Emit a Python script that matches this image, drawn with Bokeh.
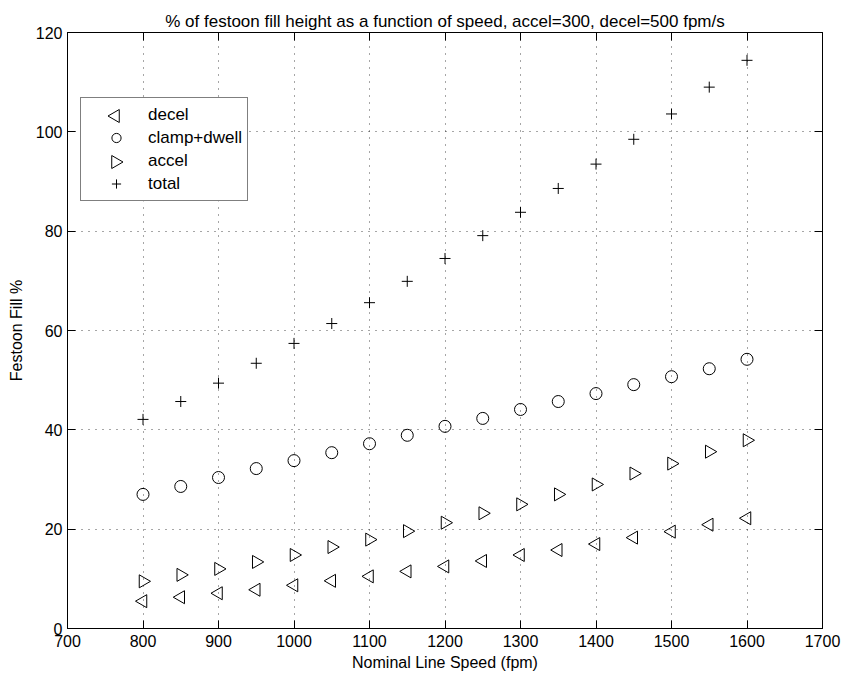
from math import pi

from bokeh.embed import file_html
from bokeh.models import Legend, LegendItem, LinearAxis, Range1d, SingleIntervalTicker
from bokeh.plotting import figure
from bokeh.resources import INLINE

# Nominal line speed (fpm)
speed = [800, 850, 900, 950, 1000, 1050, 1100, 1150, 1200,
         1250, 1300, 1350, 1400, 1450, 1500, 1550, 1600]

# Festoon fill (%) for each phase of the cycle
decel = [5.5, 6.3, 7.1, 7.8, 8.7, 9.6, 10.5, 11.5, 12.5,
         13.6, 14.8, 15.8, 17.0, 18.3, 19.5, 20.9, 22.2]
clamp_dwell = [27.0, 28.6, 30.4, 32.2, 33.8, 35.4, 37.2, 38.9, 40.7,
               42.3, 44.1, 45.7, 47.3, 49.1, 50.7, 52.3, 54.2]
accel = [9.5, 10.8, 12.0, 13.4, 14.8, 16.4, 17.9, 19.6, 21.3,
         23.2, 25.0, 27.0, 29.0, 31.2, 33.2, 35.6, 37.9]
total = [42.1, 45.7, 49.4, 53.4, 57.4, 61.4, 65.6, 69.9, 74.5,
         79.1, 83.8, 88.6, 93.5, 98.5, 103.6, 109.0, 114.4]

series_labels = ["decel", "clamp+dwell", "accel", "total"]

title_text = "% of festoon fill height as a function of speed, accel=300, decel=500 fpm/s"
x_label = "Nominal Line Speed (fpm)"
y_label = "Festoon Fill %"

X0, X1 = 700, 1700
Y0, Y1 = 0, 120
FRAME_W, FRAME_H = 755, 596

FONT = "Liberation Sans"
FS = "16px"
FS_BIG = "17px"

p = figure(
    frame_width=FRAME_W, frame_height=FRAME_H,
    x_range=Range1d(X0, X1), y_range=Range1d(Y0, Y1),
    output_backend="svg", toolbar_location=None,
    min_border_left=67, min_border_right=24,
    min_border_top=32, min_border_bottom=51,
    background_fill_color="white", border_fill_color="white",
)

p.outline_line_color = "black"
p.outline_line_width = 1

xticker = SingleIntervalTicker(interval=100, num_minor_ticks=0)
yticker = SingleIntervalTicker(interval=20, num_minor_ticks=0)

# mirror axes on top and right carry ticks only
p.add_layout(LinearAxis(), "above")
p.add_layout(LinearAxis(), "right")

p.title.text = title_text
p.title.align = "center"
p.title.vertical_align = "top"
p.title.offset = 9
p.title.text_font = FONT
p.title.text_font_size = FS_BIG
p.title.text_font_style = "normal"
p.title.text_color = "black"
p.title.standoff = 0

for ax in p.xaxis:
    ax.ticker = xticker
for ax in p.yaxis:
    ax.ticker = yticker

for ax in p.axis:
    ax.major_tick_in = 8
    ax.major_tick_out = 0
    ax.minor_tick_line_color = None
    ax.axis_line_color = "black"
    ax.major_tick_line_color = "black"
    ax.major_label_text_font = FONT
    ax.major_label_text_font_size = FS
    ax.major_label_text_color = "black"
    ax.axis_label_text_font = FONT
    ax.axis_label_text_font_size = FS
    ax.axis_label_text_font_style = "normal"
    ax.axis_label_text_color = "black"

for ax in p.above + p.right:
    ax.major_label_text_font_size = "0px"
    ax.major_label_text_color = None
    ax.major_label_standoff = 0

p.below[0].axis_label = x_label
p.below[0].major_label_standoff = 6
p.below[0].axis_label_standoff = 4
p.left[0].axis_label = y_label
p.left[0].major_label_standoff = 5
p.left[0].axis_label_standoff = 8

p.xgrid.ticker = xticker
p.ygrid.ticker = yticker
for g in (p.xgrid, p.ygrid):
    g.grid_line_color = "black"
    g.grid_line_alpha = 0.7
    g.grid_line_dash = "1 6"
    g.grid_line_width = 1

# legend geometry (screen pixels from the frame's lower-left corner)
LEG_LEFT, LEG_BOTTOM = 13, 427
PAD, ROW_H, GLYPH_W = 5, 23, 60
LEG_W = 167
n_rows = len(series_labels)
LEG_H = 2 * PAD + n_rows * ROW_H

sx = (X1 - X0) / FRAME_W   # data units per pixel
sy = (Y1 - Y0) / FRAME_H

# white backing behind the legend, hides the grid under it
p.quad(left=[X0 + LEG_LEFT * sx], right=[X0 + (LEG_LEFT + LEG_W) * sx],
       bottom=[Y0 + LEG_BOTTOM * sy], top=[Y0 + (LEG_BOTTOM + LEG_H) * sy],
       fill_color="white", line_color=None)

common = dict(fill_color=None, line_color="black", line_width=1)
TRI, CIR, CRS = 13, 12, 11
p.scatter(speed, decel, marker="triangle", angle=pi / 2, size=TRI, **common)
r_clamp = p.scatter(speed, clamp_dwell, marker="circle", size=CIR, **common)
p.scatter(speed, accel, marker="triangle", angle=-pi / 2, size=TRI, **common)
r_total = p.scatter(speed, total, marker="cross", size=CRS, **common)

# legend glyphs are always drawn unrotated, so the sideways triangle keys are
# plotted separately at the legend's key column
key_decel = p.scatter(speed[:1], decel[:1], marker="triangle", size=TRI,
                      fill_color=None, line_alpha=0)
key_accel = p.scatter(speed[:1], accel[:1], marker="triangle", size=TRI,
                      fill_color=None, line_alpha=0)

key_x = X0 + (LEG_LEFT + PAD + GLYPH_W / 2) * sx


def row_y(i):
    py = LEG_BOTTOM + LEG_H - PAD - ROW_H * (i + 0.5)
    return Y0 + py * sy


p.scatter([key_x], [row_y(0)], marker="triangle", angle=pi / 2, size=TRI, **common)
p.scatter([key_x], [row_y(2)], marker="triangle", angle=-pi / 2, size=TRI, **common)

legend = Legend(
    items=[LegendItem(label=lbl, renderers=[r]) for lbl, r in
           zip(series_labels, [key_decel, r_clamp, key_accel, r_total])],
    location=(LEG_LEFT, LEG_BOTTOM),
    margin=0, padding=PAD, spacing=0,
    glyph_width=GLYPH_W, glyph_height=ROW_H, label_height=ROW_H, label_standoff=2,
    label_text_font=FONT, label_text_font_size=FS_BIG, label_text_color="black",
    border_line_color="black", border_line_width=1,
    background_fill_alpha=0,
)
p.add_layout(legend)

open("out.html", "w").write(file_html(p, INLINE))
